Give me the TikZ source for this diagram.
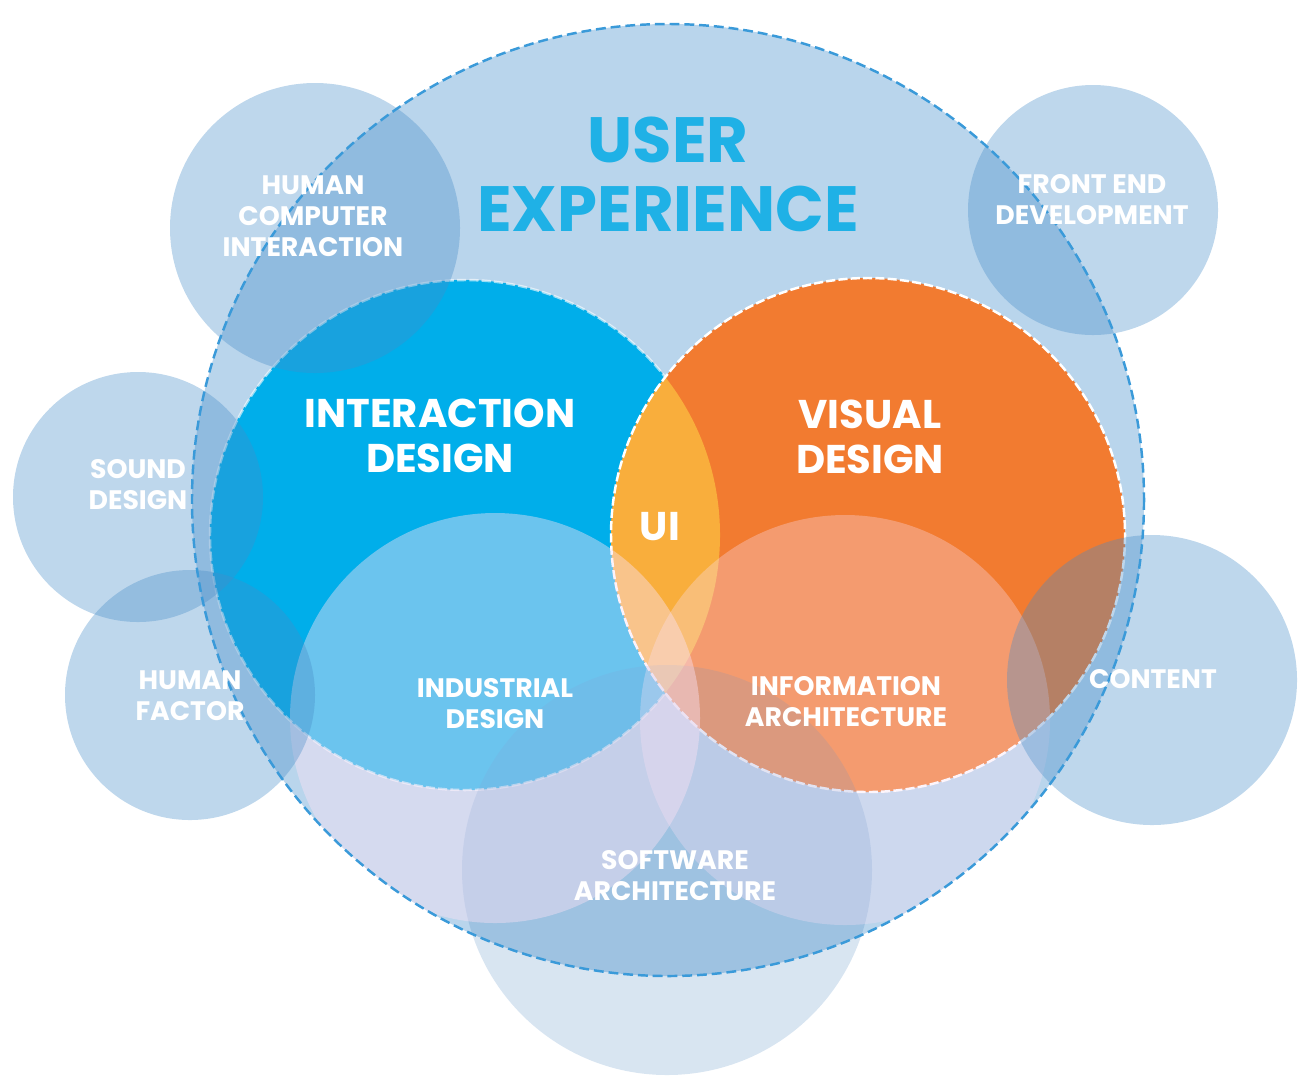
\documentclass[tikz,border=0pt]{standalone}
\usepackage{fontspec}
\setmainfont{Poppins}
\usetikzlibrary{positioning}
\definecolor{uxsky}   {HTML}{B9D5EC}
\definecolor{uxline}  {HTML}{3A9AD9}
\definecolor{uxtitle} {HTML}{1FB1E6}
\definecolor{ixblue}  {HTML}{00AEEA}
\definecolor{vdorange}{HTML}{F27B30}
\definecolor{uiyellow}{HTML}{F9AE3C}
\definecolor{pale}    {HTML}{FAE1F5}
\definecolor{deep}    {HTML}{286EB4}
\definecolor{satblue} {HTML}{468CC8}
\tikzset{
  % --- circles
  sat/.style    = {fill=satblue, fill opacity=.35},
  lite/.style   = {fill=pale, fill opacity=.43},
  litea/.style  = {fill=pale, fill opacity=.32},
  shade/.style  = {fill=deep, fill opacity=.18},
  wedge/.style  = {draw=white, line width=.7pt, dash pattern=on 2.6pt off .9pt},
  uxedge/.style = {draw=uxline, line width=.7pt, dash pattern=on 2.8pt off 1.4pt},
  % --- texts
  lbl/.style    = {text=white, align=center, inner sep=0pt,
                   font=\bfseries\fontsize{7.6}{8.8}\selectfont},
  big/.style    = {text=white, align=center, inner sep=0pt,
                   font=\bfseries\fontsize{11.4}{12.8}\selectfont},
  ttl/.style    = {text=uxtitle, inner sep=0pt,
                   font=\bfseries\fontsize{18.2}{19}\selectfont},
}
\begin{document}
\begin{tikzpicture}[x=0.01cm, y=-0.01cm]
  \useasboundingbox (0,0) rectangle (1310,1087);
  % centres
  \coordinate (ux)  at (668,500);
  \coordinate (ixd) at (465,535);
  \coordinate (vd)  at (868,535);
  \coordinate (ind) at (495,718);
  \coordinate (ia)  at (845,720);
  \coordinate (sw)  at (667,870);
  \coordinate (hci) at (315,228);
  \coordinate (fed) at (1093,210);
  \coordinate (snd) at (138,497);
  \coordinate (hf)  at (190,695);
  \coordinate (cnt) at (1152,680);

  \fill[uxsky] (ux) circle [radius=476];
  \fill[ixblue] (ixd) circle [radius=255];
  \draw[wedge, draw opacity=.6] (ixd) circle [radius=255];
  \fill[vdorange] (vd) circle [radius=257];
  \begin{scope}
    \clip (ixd) circle [radius=255];
    \fill[uiyellow] (vd) circle [radius=257];
  \end{scope}
  \draw[wedge] (vd) circle [radius=257];

  \fill[shade] (sw) circle [radius=205];
  \begin{scope}
    \clip (ux) circle [radius=476];
    \fill[lite] (ind) circle [radius=205];
    \fill[litea] (ia) circle [radius=205];
  \end{scope}

  \foreach \c/\r in {hci/145, fed/125, snd/125, hf/125, cnt/145}
    \fill[sat] (\c) circle [radius=\r];

  \draw[uxedge] (ux) circle [radius=476];

  % labels
  \node[ttl] (user) at (668,140) {USER};
  \node[ttl] (exp)  at (668,209) {EXPERIENCE};
  \node[lbl] (lhci) at (313,216) {HUMAN\\COMPUTER\\INTERACTION};
  \node[lbl] (lfed) at (1092,200) {FRONT END\\DEVELOPMENT};
  \node[lbl] (lsnd) at (138,485) {SOUND\\DESIGN};
  \node[lbl] (lhf)  at (190,696) {HUMAN\\FACTOR};
  \node[big] (lixd) at (440,436) {INTERACTION\\DESIGN};
  \node[big] (lvd)  at (870,437) {VISUAL\\DESIGN};
  \node[big] (lui)  at (660,527) {UI};
  \node[lbl] (lind) at (495,704) {INDUSTRIAL\\DESIGN};
  \node[lbl] (lia)  at (846,702) {INFORMATION\\ARCHITECTURE};
  \node[lbl] (lcnt) at (1153,679) {CONTENT};
  \node[lbl] (lsw)  at (675,876) {SOFTWARE\\ARCHITECTURE};
\end{tikzpicture}
\end{document}
